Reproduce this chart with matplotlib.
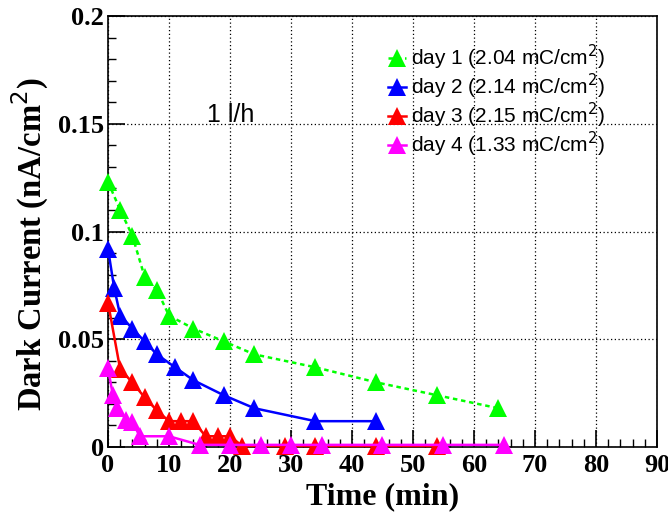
import matplotlib
matplotlib.use("Agg")
import matplotlib.pyplot as plt
from matplotlib.ticker import MultipleLocator

# Data
day1_t = [0, 2, 4, 6, 8, 10, 14, 19, 24, 34, 44, 54, 64]
day1_i = [0.123, 0.110, 0.098, 0.079, 0.073, 0.061, 0.055, 0.049, 0.043, 0.037, 0.030, 0.024, 0.018]

day2_t = [0, 1, 2, 4, 6, 8, 11, 14, 19, 24, 34, 44]
day2_i = [0.092, 0.074, 0.061, 0.055, 0.049, 0.043, 0.037, 0.031, 0.024, 0.018, 0.012, 0.012]

day3_t = [0, 2, 4, 6, 8, 10, 12, 14, 16, 18, 20, 22, 29, 34, 44, 54]
day3_i = [0.067, 0.036, 0.030, 0.023, 0.017, 0.012, 0.012, 0.012, 0.005, 0.005, 0.005,
          0.0005, 0.0005, 0.0005, 0.0005, 0.0005]

day4_t = [0, 0.8, 1.5, 3, 4, 5.2, 10, 15, 20, 25, 30, 35, 45, 55, 65]
day4_i = [0.0365, 0.024, 0.018, 0.0125, 0.0117, 0.005, 0.005, 0.001, 0.001, 0.001,
          0.001, 0.001, 0.001, 0.001, 0.001]

labels = ["day 1 (2.04 mC/cm$^{2}$)", "day 2 (2.14 mC/cm$^{2}$)",
          "day 3 (2.15 mC/cm$^{2}$)", "day 4 (1.33 mC/cm$^{2}$)"]
colors = ["#00ff00", "#0000ff", "#ff0000", "#ff00ff"]

xticks = [0, 10, 20, 30, 40, 50, 60, 70, 80, 90]
xticklabels = ["0", "10", "20", "30", "40", "50", "60", "70", "80", "90"]
yticks = [0, 0.05, 0.1, 0.15, 0.2]
yticklabels = ["0", "0.05", "0.1", "0.15", "0.2"]

fig = plt.figure(figsize=(6.68, 5.18), dpi=100)
ax = fig.add_axes([0.1617, 0.137, 0.8218, 0.832])

series = [(day1_t, day1_i), (day2_t, day2_i), (day3_t, day3_i), (day4_t, day4_i)]
styles = [(0, (1.8, 1.5)), "-", "-", "-"]
for (t, v), c, ls, lab in zip(series, colors, styles, labels):
    ax.plot(t, v, color=c, linestyle=ls, linewidth=1.8, marker="^", markersize=13,
            markeredgewidth=0, label=lab, clip_on=False, zorder=3)

ax.set_xlim(0, 90)
ax.set_ylim(0, 0.2)
ax.xaxis.set_minor_locator(MultipleLocator(2))
ax.yaxis.set_minor_locator(MultipleLocator(0.01))
ax.tick_params(which="both", direction="in", top=False, right=False)
ax.tick_params(which="major", length=12, width=1.2)
ax.tick_params(which="minor", length=6, width=1)
ax.grid(True, which="major", linestyle=(0, (1, 2)), color="black", linewidth=0.9)

tickfont = dict(family="Liberation Serif", weight="bold", size=19)
ax.set_xticks(xticks)
ax.set_xticklabels(xticklabels, **tickfont)
ax.set_yticks(yticks)
ax.set_yticklabels(yticklabels, **tickfont)
ax.tick_params(axis="x", pad=5)
ax.tick_params(axis="y", pad=3)

ax.set_xlabel("Time (min)", family="Liberation Serif", weight="bold", size=23, labelpad=4)
ax.set_ylabel("Dark Current (nA/cm$^{2}$)", family="Liberation Serif", weight="bold",
              size=23.5)
ax.yaxis.set_label_coords(-0.104, 0.47)

ax.text(20.1, 0.154, "1 l/h", family="Liberation Sans", fontsize=18, ha="center", va="center")

leg = ax.legend(loc="upper left", bbox_to_anchor=(0.494, 0.958), frameon=False,
                prop=dict(family="Liberation Sans", size=15), handlelength=0.9,
                handletextpad=0.25, labelspacing=0.0, borderaxespad=0)

for sp in ax.spines.values():
    sp.set_linewidth(1.2)

fig.savefig("out.png", dpi=100)
